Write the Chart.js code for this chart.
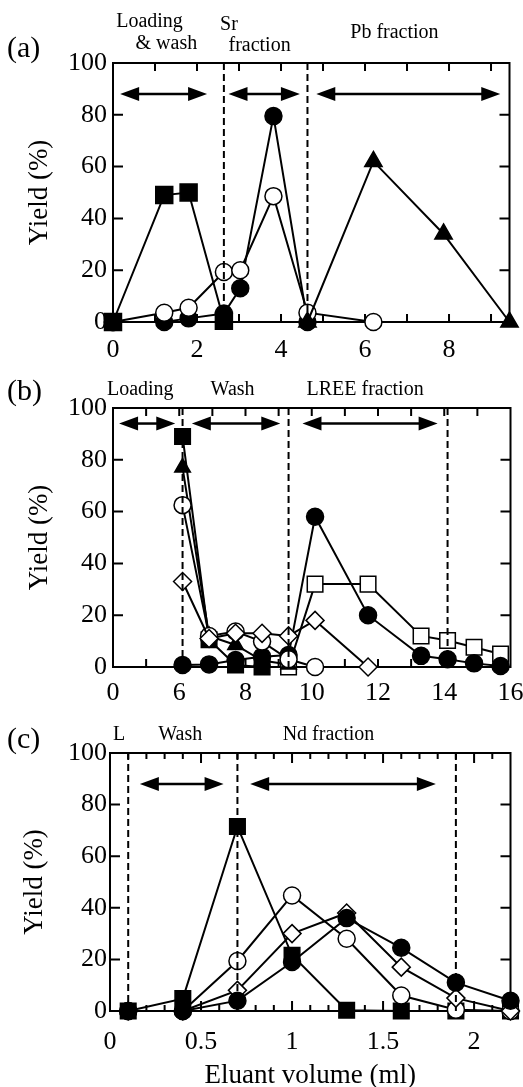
<!DOCTYPE html>
<html>
<head>
<meta charset="utf-8">
<script src="https://cdn.jsdelivr.net/npm/chart.js@4/dist/chart.umd.min.js"></script>
<style>
  html, body { margin: 0; padding: 0; background: #fff; overflow: hidden; }
  canvas { position: absolute; left: 0; }
</style>
</head>
<body>
<canvas id="chartA" width="523" height="365" style="top:0px"></canvas>
<canvas id="chartB" width="523" height="340" style="top:365px"></canvas>
<canvas id="chartC" width="523" height="392" style="top:705px"></canvas>
<script>
const SERIF = '"Liberation Serif", "Times New Roman", serif';

// ---- panel (a): Sr / Pb separation ----
const volA = [0, 1.22, 1.8, 2.64, 3.03, 3.82, 4.63, 6.2, 7.87, 9.44];
const aSquareFill = [0, 49, 50, 0.5];
const aCircleFill = [0, 0, 1.4, 3.3, 13, 79.5, 0];
const aCircleOpen = [0, 3.6, 5.5, 19.3, 20, 48.6, 3.6, 0];
const aTriangle = [null, null, null, null, null, null, 0, 62, 34, 0];
const aDividers = [2.64, 4.63];
const aArrows = [[0.17, 2.24], [2.75, 4.45], [4.84, 9.22]];

// ---- panel (b): LREE separation (axis broken between 0 and 6 ml) ----
const volB = [6.1, 6.9, 7.7, 8.5, 9.3, 10.1, 11.7, 13.3, 14.1, 14.9, 15.7];
const bSquareFill = [89, 10.5, 0.8, 0];
const bTriangle = [77, 12, 8.5, 2.5, 1];
const bCircleOpen = [62.5, 12, 13.7, 9.8, 3, 0];
const bDiamond = [33, 11, 13, 13, 12, 18, 0];
const bCircleFill = [0.8, 1, 2.7, 4, 4.6, 58, 20, 4.3, 3, 1.4, 0.4];
const bSquareOpen = [null, null, null, null, 0, 32, 32, 12, 10.2, 7.6, 5];
const bDividers = [6.1, 9.3, 14.1];
const bArrows = [[0.55, 5.64], [6.38, 9.05], [9.72, 13.8]];
const bTickLabels = ['0', '6', '8', '10', '12', '14', '16'];

// ---- panel (c): Nd separation ----
const volC = [0.1, 0.4, 0.7, 1.0, 1.3, 1.6, 1.9, 2.2];
const cSquareFill = [0, 4.8, 71.5, 21.6, 0.3, 0, 0, 0];
const cCircleOpen = [0, 0, 19.4, 44.8, 28, 6, 0.5, 0];
const cDiamond = [0, 0, 8, 30, 38, 17, 5, 0];
const cCircleFill = [0, 0, 4, 19, 36, 24.5, 11, 4];
const cDividers = [0.1, 0.7, 1.9];
const cArrows = [[0.164, 0.624], [0.77, 1.79]];

// broken axis of (b): 0-6 ml squeezed into the width of 2 ml
const bPos = v => v <= 6 ? v / 3 : v - 4;

function points(xs, ys, map) {
    const out = [];
    ys.forEach((y, i) => {
        if (y === null || y === undefined) return;
        out.push({ x: map ? map(xs[i]) : xs[i], y: y });
    });
    return out;
}

function marker(kind, size) {
    const style = {
        fSquare: ['rect', '#000'], oSquare: ['rect', '#fff'],
        fCircle: ['circle', '#000'], oCircle: ['circle', '#fff'],
        diamond: ['rectRot', '#fff'], triangle: ['triangle', '#000']
    }[kind];
    return {
        pointStyle: style[0],
        pointBackgroundColor: style[1],
        pointBorderColor: '#000',
        pointBorderWidth: 1.5,
        pointRadius: size,
        pointHoverRadius: size,
        borderColor: '#000',
        borderWidth: 2,
        tension: 0,
        fill: false,
        clip: false
    };
}

const panelDeco = {
    id: 'panelDeco',
    beforeDatasetsDraw(chart, args, o) {
        const { ctx, chartArea: ca, scales: { x, y } } = chart;
        ctx.save();
        ctx.strokeStyle = '#000';
        ctx.lineWidth = 2;
        x.ticks.forEach(t => {
            const px = x.getPixelForValue(t.value);
            if (px <= ca.left + 1 || px >= ca.right - 1) return;
            const len = t.label !== '' ? o.xMajor : o.xMinor;
            ctx.beginPath();
            ctx.moveTo(px, ca.bottom); ctx.lineTo(px, ca.bottom - len);
            ctx.moveTo(px, ca.top); ctx.lineTo(px, ca.top + len);
            ctx.stroke();
        });
        y.ticks.forEach(t => {
            const py = y.getPixelForValue(t.value);
            if (py <= ca.top + 1 || py >= ca.bottom - 1) return;
            ctx.beginPath();
            ctx.moveTo(ca.left, py); ctx.lineTo(ca.left + 10, py);
            ctx.moveTo(ca.right, py); ctx.lineTo(ca.right - 10, py);
            ctx.stroke();
        });
        ctx.strokeRect(ca.left, ca.top, ca.width, ca.height);
        ctx.restore();
    },
    afterDatasetsDraw(chart, args, o) {
        const { ctx, chartArea: ca, scales: { x, y } } = chart;
        ctx.save();
        ctx.strokeStyle = '#000';
        ctx.fillStyle = '#000';

        ctx.lineWidth = 2;
        ctx.setLineDash([7, 4]);
        o.dividers.forEach(v => {
            const px = x.getPixelForValue(v);
            ctx.beginPath();
            ctx.moveTo(px, ca.top); ctx.lineTo(px, ca.bottom);
            ctx.stroke();
        });
        ctx.setLineDash([]);

        const py = y.getPixelForValue(o.arrowY);
        const head = 19, half = 7;
        o.arrows.forEach(([v0, v1]) => {
            const x0 = x.getPixelForValue(v0), x1 = x.getPixelForValue(v1);
            ctx.lineWidth = 2.5;
            ctx.beginPath();
            ctx.moveTo(x0 + head - 2, py); ctx.lineTo(x1 - head + 2, py);
            ctx.stroke();
            ctx.beginPath();
            ctx.moveTo(x0, py); ctx.lineTo(x0 + head, py - half); ctx.lineTo(x0 + head, py + half);
            ctx.closePath();
            ctx.moveTo(x1, py); ctx.lineTo(x1 - head, py - half); ctx.lineTo(x1 - head, py + half);
            ctx.closePath();
            ctx.fill();
        });

        ctx.font = '20px ' + SERIF;
        ctx.textAlign = 'center';
        ctx.textBaseline = 'middle';
        o.notes.forEach(n => ctx.fillText(n.text, x.getPixelForValue(n.x), ca.top + n.dy));

        ctx.font = '30px ' + SERIF;
        ctx.textAlign = 'left';
        ctx.fillText(o.tag, 7, o.tagY);
        ctx.restore();
    }
};

function makePanel(id, p) {
    const ctx = document.getElementById(id).getContext('2d');
    return new Chart(ctx, {
        type: 'line',
        data: { datasets: p.datasets },
        plugins: [panelDeco],
        options: {
            responsive: false,
            animation: false,
            events: [],
            layout: { padding: { left: 0, top: p.top, right: p.right, bottom: 0 } },
            plugins: {
                legend: { display: false },
                tooltip: { enabled: false },
                panelDeco: p.deco
            },
            scales: {
                x: {
                    type: 'linear',
                    min: p.xMin, max: p.xMax,
                    grid: { display: false, drawTicks: false },
                    border: { display: false },
                    ticks: {
                        stepSize: p.xStep,
                        autoSkip: false,
                        maxRotation: 0,
                        includeBounds: false,
                        padding: p.xLabelPad,
                        color: '#000',
                        font: { family: SERIF, size: 26 },
                        callback: p.xLabel
                    },
                    title: p.xTitle || { display: false },
                    afterFit: s => { s.height = p.xHeight; s.paddingLeft = 0; s.paddingRight = 0; }
                },
                y: {
                    min: 0, max: 100,
                    grid: { display: false, drawTicks: false },
                    border: { display: false },
                    ticks: {
                        stepSize: 20,
                        padding: p.yLabelPad,
                        color: '#000',
                        font: { family: SERIF, size: 26 }
                    },
                    title: {
                        display: true,
                        text: 'Yield (%)',
                        color: '#000',
                        font: { family: SERIF, size: 27 },
                        padding: { top: p.yTitlePad, bottom: 0 }
                    },
                    afterFit: s => { s.width = p.left; }
                }
            }
        }
    });
}

window.addEventListener('load', function () {

    makePanel('chartA', {
        top: 63, right: 10, left: 113, xHeight: 43,
        xMin: 0, xMax: 9.44, xStep: 1, xLabelPad: 13, yLabelPad: 6, yTitlePad: 24,
        xLabel: v => (Number.isInteger(v) && v % 2 === 0) ? String(v) : '',
        datasets: [
            Object.assign({ data: points(volA, aSquareFill) }, marker('fSquare', 12)),
            Object.assign({ data: points(volA, aTriangle) }, marker('triangle', 10)),
            Object.assign({ data: points(volA, aCircleOpen) }, marker('oCircle', 8.5)),
            Object.assign({ data: points(volA, aCircleFill) }, marker('fCircle', 8.5))
        ],
        deco: {
            xMajor: 8, xMinor: 8, arrowY: 88,
            dividers: aDividers, arrows: aArrows,
            notes: [
                { text: 'Loading', x: 0.87, dy: -41 },
                { text: '& wash', x: 1.27, dy: -19 },
                { text: 'Sr', x: 2.76, dy: -38 },
                { text: 'fraction', x: 3.49, dy: -17 },
                { text: 'Pb fraction', x: 6.7, dy: -30 }
            ],
            tag: '(a)', tagY: 49
        }
    });

    makePanel('chartB', {
        top: 43, right: 10, left: 113, xHeight: 38,
        xMin: 0, xMax: 12, xStep: 1, xLabelPad: 11, yLabelPad: 6, yTitlePad: 24,
        xLabel: v => (Number.isInteger(v) && v % 2 === 0) ? bTickLabels[v / 2] : '',
        datasets: [
            Object.assign({ data: points(volB, bDiamond, bPos) }, marker('diamond', 9)),
            Object.assign({ data: points(volB, bCircleOpen, bPos) }, marker('oCircle', 8.5)),
            Object.assign({ data: points(volB, bCircleFill, bPos) }, marker('fCircle', 8.5)),
            Object.assign({ data: points(volB, bTriangle, bPos) }, marker('triangle', 9)),
            Object.assign({ data: points(volB, bSquareFill, bPos) }, marker('fSquare', 11)),
            Object.assign({ data: points(volB, bSquareOpen, bPos) }, marker('oSquare', 11))
        ],
        deco: {
            xMajor: 8, xMinor: 8, arrowY: 94,
            dividers: bDividers.map(bPos),
            arrows: bArrows.map(a => a.map(bPos)),
            notes: [
                { text: 'Loading', x: bPos(2.47), dy: -18 },
                { text: 'Wash', x: bPos(7.61), dy: -18 },
                { text: 'LREE fraction', x: bPos(11.61), dy: -18 }
            ],
            tag: '(b)', tagY: 27
        }
    });

    makePanel('chartC', {
        top: 48, right: 11, left: 110, xHeight: 86,
        xMin: 0, xMax: 2.2, xStep: 0.1, xLabelPad: 16, yLabelPad: 3, yTitlePad: 19,
        xLabel: v => {
            const h = Math.round(v * 10);
            return h % 5 === 0 ? String(h / 10) : '';
        },
        xTitle: {
            display: true,
            text: 'Eluant volume (ml)',
            color: '#000',
            font: { family: SERIF, size: 27 },
            padding: { top: 0, bottom: 5 }
        },
        datasets: [
            Object.assign({ data: points(volC, cCircleFill) }, marker('fCircle', 8.5)),
            Object.assign({ data: points(volC, cDiamond) }, marker('diamond', 9)),
            Object.assign({ data: points(volC, cCircleOpen) }, marker('oCircle', 8.5)),
            Object.assign({ data: points(volC, cSquareFill) }, marker('fSquare', 11))
        ],
        deco: {
            xMajor: 10, xMinor: 6, arrowY: 88,
            dividers: cDividers, arrows: cArrows,
            notes: [
                { text: 'L', x: 0.05, dy: -18 },
                { text: 'Wash', x: 0.386, dy: -18 },
                { text: 'Nd fraction', x: 1.2, dy: -18 }
            ],
            tag: '(c)', tagY: 35
        }
    });
});
</script>
</body>
</html>
